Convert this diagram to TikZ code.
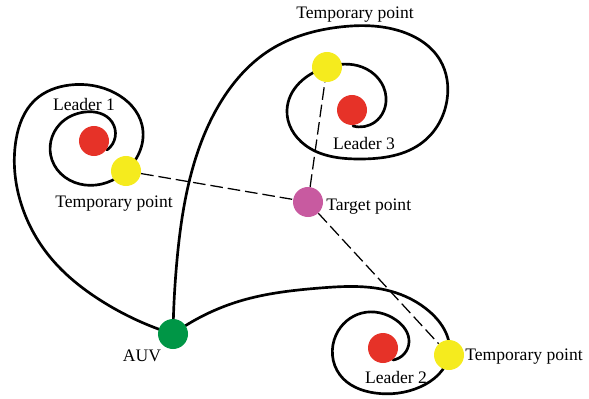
\documentclass[tikz,border=0pt]{standalone}
\usepackage{fontspec}
\setmainfont{Liberation Serif}
\usetikzlibrary{hobby}
\pgfdeclarelayer{background}
\pgfsetlayers{background,main}
\definecolor{cred}{RGB}{230,50,40}
\definecolor{cyel}{RGB}{245,235,30}
\definecolor{cpink}{RGB}{200,90,160}
\definecolor{cgreen}{RGB}{0,150,70}
\begin{document}
\begin{tikzpicture}[x=0.025cm,y=-0.025cm,use Hobby shortcut,
  dot/.style={circle,inner sep=0pt,minimum size=0.75cm},
  lbl/.style={font=\fontsize{12.5}{14}\selectfont,inner sep=0pt},
  path/.style={line width=1.9pt,line cap=round},
  link/.style={line width=0.9pt,dash pattern=on 9pt off 3.5pt}]
\useasboundingbox (0,0) rectangle (589,399);
% points
\node[dot,fill=cgreen] (auv) at (173,334) {};
\node[dot,fill=cred] (l1) at (94,141) {};
\node[dot,fill=cred] (l3) at (352,110) {};
\node[dot,fill=cred] (l2) at (383,348) {};
\node[dot,fill=cyel] (t1) at (126,171) {};
\node[dot,fill=cyel] (t3) at (327,67) {};
\node[dot,fill=cyel] (t2) at (449,355) {};
\node[dot,fill=cpink] (tg) at (308,202) {};
% labels
\node[lbl] (auvl) at (142,356) {AUV};
\node[lbl] (l1l) at (84,104) {Leader 1};
\node[lbl] (l3l) at (364,143) {Leader 3};
\node[lbl] (l2l) at (396,377) {Leader 2};
\node[lbl] (t1l) at (114,204) {Temporary point};
\node[lbl] (t3l) at (355,15) {Temporary point};
\node[lbl,anchor=west] (t2l) at (465,357) {Temporary point};
\node[lbl,anchor=west] (tgl) at (326,207) {Target point};
% end coordinates
\coordinate (e1) at (107,150);
\coordinate (e3) at (353,126);
\coordinate (e2) at (393,360);
\begin{pgfonlayer}{background}
\draw[link] (t1) -- (tg);
\draw[link] (tg) -- (t3);
\draw[link] (tg) -- (t2);
\draw[path] (auv.center) .. (100,300) .. (50,257) .. (20,200) .. (16,140) .. (35,100) .. (70,85) .. (115,93) .. (142,125) .. (t1.center) .. (85,185) .. (52,160) .. (60,124) .. (85,112) .. (112,122) .. (e1);
\draw[path] (auv.center) .. (177,260) .. (193,167) .. (222,100) .. (270,50) .. (340,27) .. (400,31) .. (440,60) .. (447,100) .. (423,142) .. (360,159) .. (305,145) .. (287,110) .. (t3.center) .. (362,67) .. (386,97) .. (375,122) .. (e3);
\draw[path] (auv.center) .. (240,301) .. (320,288) .. (390,291) .. (430,312) .. (t2.center) .. (420,387) .. (375,393) .. (340,375) .. (336,335) .. (362,313) .. (396,320) .. (409,342) .. (e2);
\end{pgfonlayer}
\end{tikzpicture}
\end{document}
